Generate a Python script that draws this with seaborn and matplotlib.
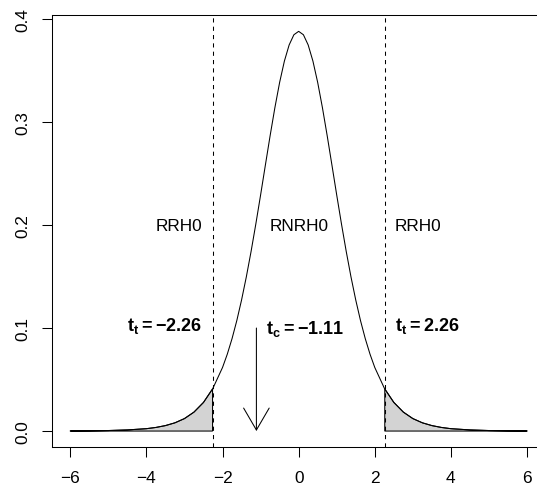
import matplotlib
matplotlib.use("Agg")
import matplotlib.pyplot as plt
import seaborn as sns
import numpy as np
import pandas as pd

# t-distribution (df = 9) curve
x_vals = [-6, -5.5, -5, -4.5, -4, -3.75, -3.5, -3.25, -3, -2.75, -2.5, -2.262, -2.25,
          -2, -1.875, -1.75, -1.625, -1.5, -1.375, -1.25, -1.125, -1, -0.875, -0.75,
          -0.625, -0.5, -0.375, -0.25, -0.125, 0,
          0.125, 0.25, 0.375, 0.5, 0.625, 0.75, 0.875, 1, 1.125, 1.25, 1.375, 1.5,
          1.625, 1.75, 1.875, 2, 2.25, 2.262, 2.5, 2.75, 3, 3.25, 3.5, 3.75, 4, 4.5,
          5, 5.5, 6]
dens_vals = [0.0001, 0.0002, 0.0005, 0.0011, 0.0023, 0.0035, 0.0053, 0.0080, 0.0121,
             0.0184, 0.0278, 0.0409, 0.0417,
             0.0617, 0.0746, 0.0897, 0.1072, 0.1272, 0.1496, 0.1743, 0.2010, 0.2291,
             0.2580, 0.2866, 0.3138, 0.3384, 0.3591, 0.3748, 0.3847, 0.3880,
             0.3847, 0.3748, 0.3591, 0.3384, 0.3138, 0.2866, 0.2580, 0.2291, 0.2010,
             0.1743, 0.1496, 0.1272, 0.1072, 0.0897, 0.0746, 0.0617, 0.0417, 0.0409,
             0.0278, 0.0184, 0.0121, 0.0080, 0.0053, 0.0035, 0.0023, 0.0011,
             0.0005, 0.0002, 0.0001]

t_crit = 2.262
t_calc = -1.11
x_ticks = [-6, -4, -2, 0, 2, 4, 6]
y_ticks = [0.0, 0.1, 0.2, 0.3, 0.4]
y_ticklabels = ["0.0", "0.1", "0.2", "0.3", "0.4"]

df = pd.DataFrame({"t": x_vals, "dens": dens_vals})

sns.set_theme(style="ticks")
plt.rcParams["font.family"] = ["Liberation Sans", "DejaVu Sans"]
plt.rcParams["font.size"] = 12.4
plt.rcParams["text.color"] = "black"
plt.rcParams["xtick.color"] = "black"
plt.rcParams["ytick.color"] = "black"
plt.rcParams["mathtext.fontset"] = "custom"
plt.rcParams["mathtext.rm"] = "Liberation Sans"
plt.rcParams["mathtext.bf"] = "Liberation Sans:bold"

fig = plt.figure(figsize=(5.37, 4.89), dpi=100)
ax = fig.add_axes([0.0968, 0.0838, 0.9187, 0.8827])

# shaded tails
left = df[df["t"] <= -t_crit]
right = df[df["t"] >= t_crit]
ax.fill(list(left["t"]) + [-t_crit, -6], list(left["dens"]) + [0, 0],
        facecolor="lightgray", edgecolor="black", linewidth=0.75)
ax.fill([t_crit] + list(right["t"]) + [6], [0] + list(right["dens"]) + [0],
        facecolor="lightgray", edgecolor="black", linewidth=0.75)

sns.lineplot(data=df, x="t", y="dens", color="black", linewidth=0.75, ax=ax)

ax.axvline(-t_crit, color="black", linewidth=0.75, linestyle=(0, (4, 4)))
ax.axvline(t_crit, color="black", linewidth=0.75, linestyle=(0, (4, 4)))

ax.annotate("", xy=(t_calc, 0), xytext=(t_calc, 0.1),
            arrowprops=dict(arrowstyle="->,head_length=0.79,head_width=0.46",
                            mutation_scale=20, color="black", linewidth=0.75,
                            shrinkA=0, shrinkB=0))

ax.text(-2.53, 0.2, "RRH0", ha="right", va="center", color="black")
ax.text(0, 0.2, "RNRH0", ha="center", va="center", color="black")
ax.text(2.53, 0.2, "RRH0", ha="left", va="center", color="black")
ax.text(-2.53, 0.103, r"$\mathbf{t_t = -2.26}$", ha="right", va="center",
        fontsize=13, color="black")
ax.text(-0.85, 0.1, r"$\mathbf{t_c = -1.11}$", ha="left", va="center",
        fontsize=13, color="black")
ax.text(2.53, 0.103, r"$\mathbf{t_t = 2.26}$", ha="left", va="center",
        fontsize=13, color="black")

ax.set_xlim(-6.48, 6.48)
ax.set_ylim(-0.0155, 0.4035)
ax.set_xticks(x_ticks)
ax.set_xticklabels([str(v).replace("-", "\u2212") for v in x_ticks])
ax.set_yticks(y_ticks)
ax.set_yticklabels(y_ticklabels, rotation=90, va="center")
ax.set_xlabel("")
ax.set_ylabel("")
ax.tick_params(axis="both", direction="out", length=7.2, width=0.75,
               color="black", labelcolor="black", labelsize=12.4)
ax.tick_params(axis="x", pad=9)
ax.tick_params(axis="y", pad=8)
for s in ax.spines.values():
    s.set_color("black")
    s.set_linewidth(0.75)
    s.set_visible(True)

fig.savefig("out.png", dpi=100)
